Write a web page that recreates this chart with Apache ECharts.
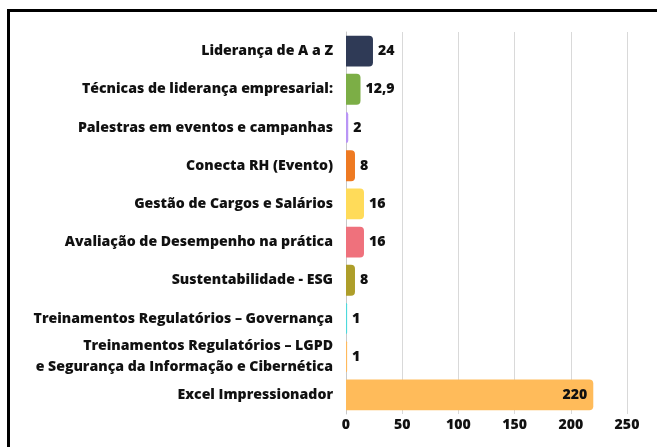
<!DOCTYPE html>
<html>
<head>
<meta charset="utf-8">
<script src="https://cdn.jsdelivr.net/npm/echarts@6/dist/echarts.min.js"></script>
<style>
html,body{margin:0;padding:0;background:#fff;}
#c{width:657px;height:447px;}
</style>
</head>
<body>
<div id="c"></div>
<script>
const categories = [
  "Liderança de A a Z",
  "Técnicas de liderança empresarial:",
  "Palestras em eventos e campanhas",
  "Conecta RH (Evento)",
  "Gestão de Cargos e Salários",
  "Avaliação de Desempenho na prática",
  "Sustentabilidade - ESG",
  "Treinamentos Regulatórios – Governança",
  "Treinamentos Regulatórios – LGPD\ne Segurança da Informação e Cibernética",
  "Excel Impressionador"
];
const values = [24, 12.9, 2, 8, 16, 16, 8, 1, 1, 220];
const colors = ["#2f3a56", "#7cae46", "#b995f5", "#ee7a22", "#ffdb59", "#ef717c", "#ae9e2a", "#4dd9dc", "#ffb95c", "#ffbb5a"];
const xTicks = [0, 50, 100, 150, 200, 250];

const FONT = "'Open Sans'";
const FS = 14.1;
const FW = 800;
const chart = echarts.init(document.getElementById('c'));
const data = values.map((v, i) => {
  const d = { value: v, itemStyle: { color: colors[i] } };
  if (v > 100) d.label = { position: 'insideRight', distance: 6 };
  return d;
});
chart.setOption({
  animation: false,
  graphic: [{
    type: 'rect',
    shape: { x: 8.5, y: 10.5, width: 800, height: 600 },
    style: { fill: 'none', stroke: '#000', lineWidth: 3 }
  }],
  grid: { left: 346, right: 30, top: 32, bottom: 33 },
  xAxis: {
    type: 'value', min: xTicks[0], max: xTicks[xTicks.length - 1], interval: 50,
    axisLine: { show: false }, axisTick: { show: false },
    splitLine: { lineStyle: { color: '#d9d9d9', width: 1 } },
    axisLabel: { color: '#111', fontFamily: FONT, fontWeight: FW, fontSize: FS, margin: 4 }
  },
  yAxis: {
    type: 'category', data: categories, inverse: true,
    axisLine: { show: true, lineStyle: { color: '#c8c8c8' } },
    axisTick: { show: false },
    axisLabel: { color: '#111', fontFamily: FONT, fontWeight: FW, fontSize: FS, margin: 13, align: 'right', lineHeight: 21 }
  },
  series: [{
    type: 'bar',
    data: data,
    barCategoryGap: '19%',
    itemStyle: { borderRadius: [0, 4, 4, 0] },
    label: {
      show: true, position: 'right', distance: 5,
      color: '#111', fontFamily: FONT, fontWeight: FW, fontSize: FS,
      formatter: p => String(p.value).replace('.', ',')
    }
  }]
});
</script>
</body>
</html>
